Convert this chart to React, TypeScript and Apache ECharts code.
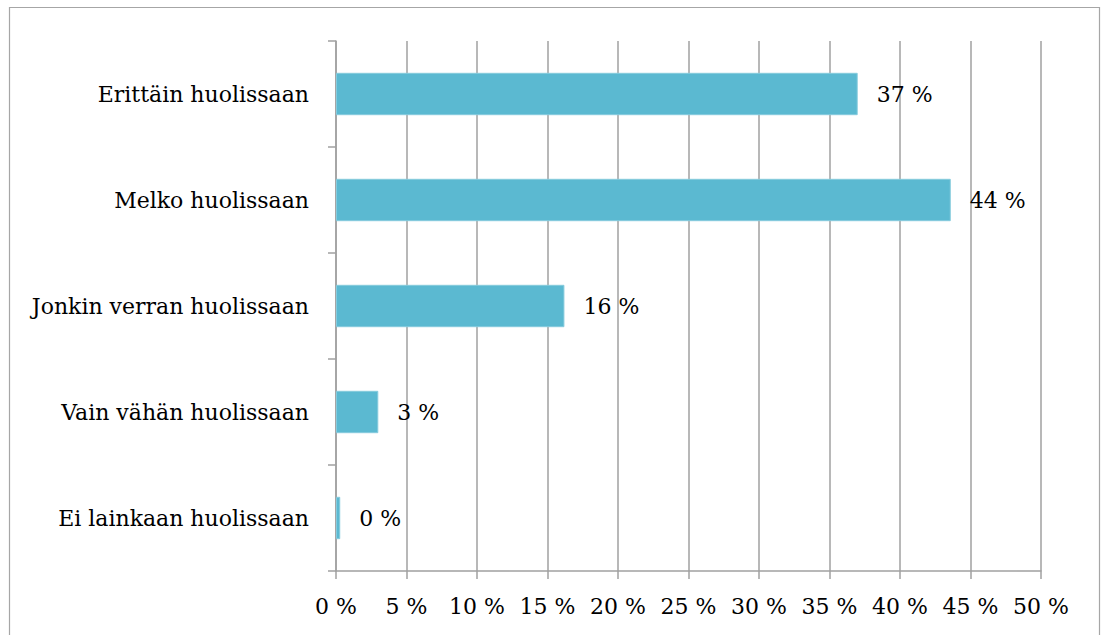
import React, { useEffect, useRef } from "react";
import * as echarts from "echarts";

const categories = [
  "Erittäin huolissaan",
  "Melko huolissaan",
  "Jonkin verran huolissaan",
  "Vain vähän huolissaan",
  "Ei lainkaan huolissaan",
];
const values = [37.0, 43.6, 16.2, 3.0, 0.3];
const axisMin = 0;
const axisMax = 50;
const axisStep = 5;

const FONT = "DejaVu Serif";
const FS = 22;
const GRID_COLOR = "#a0a0a0";

export default function App() {
  const ref = useRef<HTMLDivElement>(null);
  useEffect(() => {
    if (!ref.current) return;
    const chart = echarts.init(ref.current, null, { renderer: "svg" });
    chart.setOption({
      animation: false,
      backgroundColor: "#ffffff",
      textStyle: { fontFamily: FONT },
      graphic: [
        {
          type: "rect",
          shape: { x: 9.5, y: 7.5, width: 1090, height: 700 },
          style: { fill: "none", stroke: "#a6a6a6", lineWidth: 1.2 },
          silent: true,
        },
      ],
      grid: { left: 336, right: 64, top: 41, bottom: 64, containLabel: false },
      xAxis: {
        type: "value",
        min: axisMin,
        max: axisMax,
        interval: axisStep,
        axisLine: { show: true, lineStyle: { color: GRID_COLOR, width: 1.5 } },
        axisTick: { show: true, length: 8, lineStyle: { color: GRID_COLOR, width: 1.5 } },
        splitLine: { show: true, lineStyle: { color: GRID_COLOR, width: 1.5 } },
        axisLabel: {
          formatter: "{value} %",
          color: "#000",
          fontFamily: FONT,
          fontSize: FS,
          margin: 24,
        },
      },
      yAxis: {
        type: "category",
        data: categories,
        inverse: true,
        axisLine: { show: true, lineStyle: { color: GRID_COLOR, width: 1.5 } },
        axisTick: { show: true, length: 8, alignWithLabel: false, lineStyle: { color: GRID_COLOR, width: 1.5 } },
        splitLine: { show: false },
        axisLabel: {
          color: "#000",
          fontFamily: FONT,
          fontSize: FS,
          margin: 27,
        },
      },
      series: [
        {
          type: "bar",
          data: values,
          barWidth: "40%",
          itemStyle: { color: "#5bb9d1", borderColor: "#86cbdd", borderWidth: 1 },
          label: {
            show: true,
            position: "right",
            distance: 19,
            color: "#000",
            fontFamily: FONT,
            fontSize: FS,
            formatter: (p: any) => Math.round(p.value) + " %",
          },
        },
      ],
    });
    return () => chart.dispose();
  }, []);
  return (
    <div
      ref={ref}
      style={{ position: "fixed", left: 0, top: 0, width: 1105, height: 635 }}
    />
  );
}
